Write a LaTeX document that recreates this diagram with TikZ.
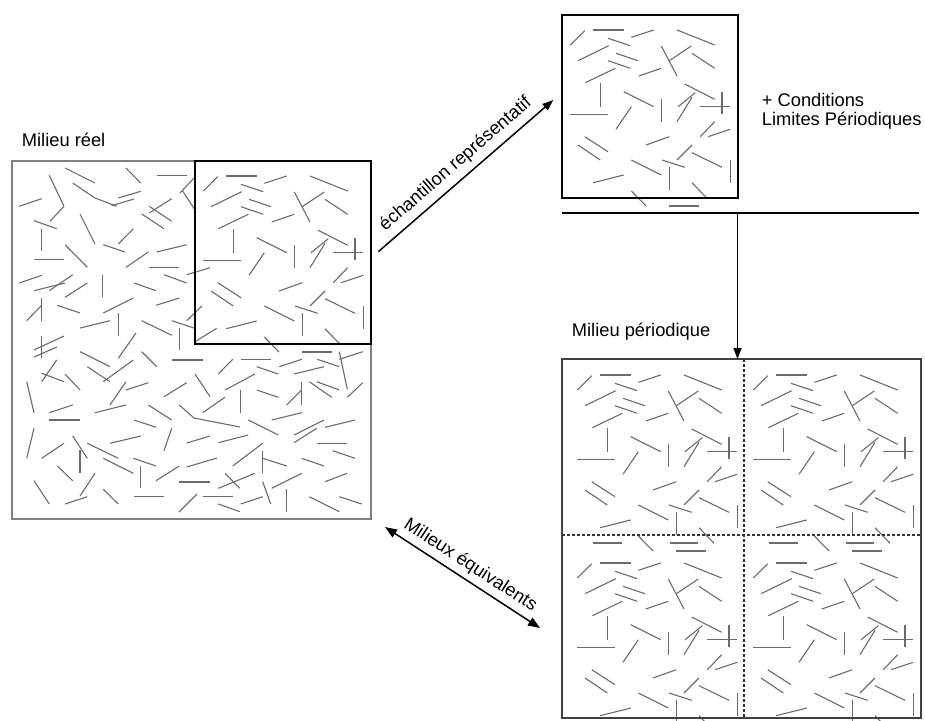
\documentclass[tikz,border=0pt]{standalone}
\usepackage{fontspec}
\setmainfont{Liberation Sans}
\usetikzlibrary{arrows.meta}
\tikzset{
  fiber/.style={draw=black!58, line width=1.1pt},
  arr/.style={-{Triangle[length=11pt,width=8pt]}, line width=1.5pt},
  darr/.style={{Triangle[length=12pt,width=9pt]}-{Triangle[length=12pt,width=9pt]}, line width=1.5pt},
  lbl/.style={inner sep=0pt, font=\fontsize{18.3}{22}\selectfont},
}
\newcommand\samplefibers{%
  \foreach \xa/\ya/\xb/\yb in {8.3/30/22.7/15.7, 31/15/61.7/15, 69.3/22.3/91.7/15, 115/15/152.7/30,
    46/23.3/68.3/30.7, 16/45.7/46.7/30.7, 54/38.3/76/45.7, 46/45.7/68.3/53.3, 76.7/61/99.3/53.3,
    99.3/31/115/61, 107.3/45.7/129.3/31, 130/38.3/152.7/53.3, 23.3/67.7/53.3/53.3, 38.3/68.3/38.3/91.7,
    8.3/99.3/46/99.3, 61.7/76.7/91.7/91.7, 99.3/84.3/99.3/106.7, 122.7/69/152.7/84.3, 116/91.7/133.3/77.7,
    115/106.7/130/82.3, 138.3/91.7/168.3/91.7, 160/76.7/160/99, 54/114.3/69.3/91.7, 138.3/121.7/152.7/106.7,
    146/121.7/168.3/114.3, 22.7/121.7/46/136.7, 16/130/38.3/145, 84/130/107.3/121.7, 115/145/130/130,
    130/137.7/160/152.3, 69.3/145/99.3/160, 100/145/122.7/152.3, 107.3/152.3/107.3/175, 168.3/145/168.3/167.7,
    31/167.7/61.7/160, 130/167.7/145/183.3, 69.3/176/84/191, 107.3/191/137.3/191, 24/183/53/183, 101/183/129/183}
  {\draw[fiber] (\xa,\ya) -- (\xb,\yb);}%
}
\begin{document}
\begin{tikzpicture}[x=1pt, y=-1pt]
\useasboundingbox (0,0) rectangle (925,720);

% ---------- real medium ----------
\begin{scope}[shift={(195,161)}]\samplefibers\end{scope}
\foreach \xa/\ya/\xb/\yb in {65/168/95/183, 49.3/175.3/64/206.3, 64/206.3/50/221.3, 72.7/183/95/198, 95/198/116.7/206.3,
  118.3/198/140.7/191.3, 111.7/205.7/134/199, 126/168/140.7/183, 156.7/175.3/186.7/175.3, 19.3/206.3/41.7/198.7,
  180/193/195/177, 182/190/195/210, 149.3/213/171.7/198.7, 149.3/206.3/171.7/221.3, 141.7/214/164/228.7,
  34/220.7/56.7/228.7, 41.7/228.7/41.7/251.3, 80/214/95/244, 118.3/244/133.3/228.7, 103.3/244.7/125/252,
  156.7/252/186.7/244.7, 65/244.7/87.3/267.3, 34/259.7/64/259.7, 126/267.3/148.3/252, 149.3/267.3/179.3/267.3,
  186.7/274.7/210/267.7, 19.3/283/41.7/275.3, 34/290.7/65/283, 49.3/290.7/72.7/274.7, 65/297.3/87.3/283,
  102.7/274.7/102.7/297.3, 134/283/156/290.7, 164/274.7/186.7/283, 26.7/320.7/41.7/305.3, 41.7/298/41.7/320.7,
  57.3/305.3/80/313, 103.3/313/133.3/298, 156/305.3/179.3/298, 118.3/313/118.3/336.3, 80/328/110/320.7,
  141.7/320.7/171.7/335.3, 171.7/320.7/194/328, 179.3/328/179.3/350, 186.7/320.7/202/306, 195/341.7/216.7/328.3,
  41.7/336/41.7/358, 34/350/64/336, 34/357/57/347, 118.3/358.3/136/333,
  80/351.7/110/366.7, 141.7/351.7/156.7/366.7, 171.7/360/203/360, 41.7/381.7/56.7/360, 41.7/373.3/64/381.7,
  65/374/80/390, 87.3/366.7/110/381.7, 103.3/381.7/133.3/360, 26.7/381.7/34/412.7, 110/405/126/381.7,
  126/390/148.3/382.7, 164/396.7/186.7/382.7, 195/374/210/396.7, 49.3/412.7/72.7/405, 49.3/420/80/420,
  95/412.7/126/405, 148.3/405/171.7/420, 134/420/156/427.3, 26.7/458.3/34/428.3, 41.7/458.3/64/443.3,
  72.7/436/87.3/458.3, 87.3/443.3/118.3/458.3, 110/443.3/140.7/436, 164/450.7/171.7/428.3, 80/450/80/473.3,
  103.3/458.3/133.3/473.3, 133.3/458.3/156/466, 57.3/466/72.7/480.7, 140.7/466/140.7/488.3, 156/480.7/179.3/466,
  186.7/467/217/458, 186.7/443/210/436, 34/480.7/49.3/504, 80/496/95/473.3, 65/504/87.3/496.7,
  103.3/489.3/118.3/504, 134/496.7/164/496.7, 179/482/210/482, 179/512/197/494,
  240.7/359.3/270.7/359.3, 218.3/374/232.7/359.3, 256.7/366.7/278.3/374, 279.3/366.7/301.7/359.3,
  317.3/359.3/339.3/366.7, 339.3/351.7/347.3/389.3, 339.3/359.3/362.7/351.7, 294/374/324/366.7,
  225/390/255/374, 240.7/390/240.7/412.7, 256.7/390/278.3/397.3, 301.7/381.7/301.7/405, 286.7/405/301.7/390,
  309.3/381.7/331.7/397.3, 316.7/381.7/339.3/390, 347.3/397.3/362.7/382.7, 202.7/412.7/225/397.3,
  248.3/420/278.3/435, 271.7/420/301.7/412.7, 294/435/324/420, 294/442.7/316.7/428.3, 325/427.3/355/420,
  218.3/442.7/248.3/435, 316.7/443.3/346.7/443.3, 232.7/466/262.7/443.3, 262.7/450.7/262.7/473.3,
  262.7/458.3/286.7/466, 301.7/458.3/324/466, 332.7/450.7/355/458.3, 218.3/488.3/255/473.3, 225/473.3/240/488.3,
  271.7/488.3/301.7/473.3, 262.7/481.7/270.7/504, 325/481.7/347.3/473.3, 202.7/496.7/232.7/496.7,
  218.3/504/240/511.7, 240.7/504/262.7/496.7, 286.7/489.3/286.7/511.7, 309.3/496.7/339.3/511.7,
  339.3/496.7/361.7/504}
  {\draw[fiber] (\xa,\ya) -- (\xb,\yb);}
\draw[fiber] (179.3,405) -- (194,418) -- (240,427);
\draw[draw=black!50, line width=1.5pt] (12,161) rectangle (371,519);
\draw[line width=2pt] (195,161) rectangle (371,344);
\node[lbl, anchor=base west] (lreel) at (21.7,146.7) {Milieu réel};

% ---------- sample ----------
\begin{scope}[shift={(562,15)}]\samplefibers\end{scope}
\draw[line width=2.8pt] (562,15) rectangle (738,198);
\node[lbl, anchor=base west] (lcond) at (761.7,106) {+ Conditions};
\node[lbl, anchor=base west] (llim) at (761.7,125) {Limites Périodiques};
\draw[line width=2pt] (562,213) -- (919,213);

% ---------- periodic medium ----------
\begin{scope}
\clip (562,359) rectangle (921,720);
\foreach \ox/\oy in {569/360, 745/360, 569/548, 745/548}
  {\begin{scope}[shift={(\ox,\oy)}]\samplefibers\end{scope}}
\end{scope}
\draw[black!80, line width=1.2pt, dash pattern=on 3pt off 2pt] (744,359) -- (744,718);
\draw[black!80, line width=1.2pt, dash pattern=on 3pt off 2pt] (562,535) -- (921,535);
\draw[black!75, line width=1.2pt] (562,359) rectangle (921,718);
\node[lbl, anchor=base west] (lper) at (571.7,336.7) {Milieu périodique};

% ---------- connectors ----------
\coordinate (hl) at (737.5,213);
\coordinate (pertop) at (737.5,359);
\draw[arr] (hl) -- (pertop);
\coordinate (e1) at (378.3,251.7);
\coordinate (e2) at (553.3,100);
\draw[arr] (e1) -- node[lbl, sloped, above=6pt] (lech) {échantillon représentatif} (e2);
\coordinate (q1) at (385,527);
\coordinate (q2) at (540,628);
\draw[darr] (q1) -- node[lbl, sloped, above=5pt] (lequ) {Milieux équivalents} (q2);
\end{tikzpicture}
\end{document}
